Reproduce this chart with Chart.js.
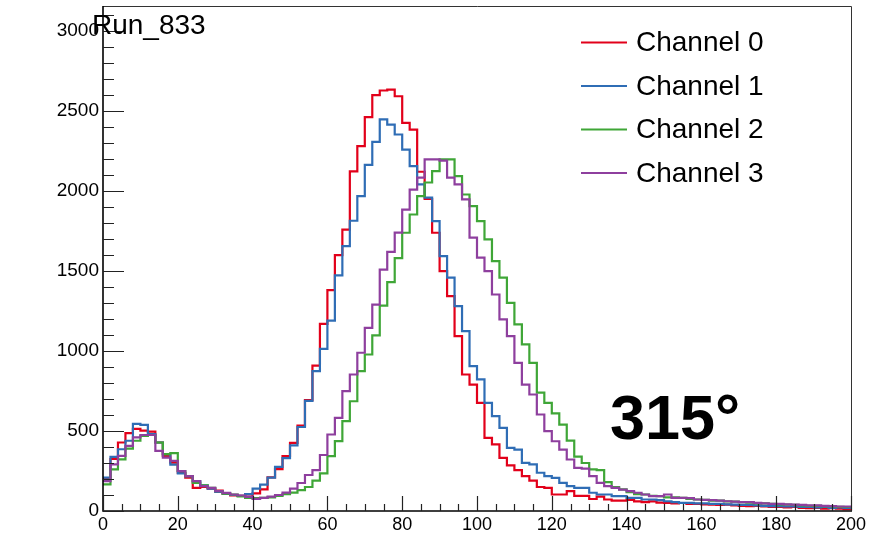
<!DOCTYPE html>
<html>
<head>
<meta charset="utf-8">
<script src="https://cdn.jsdelivr.net/npm/chart.js@4.4.0/dist/chart.umd.min.js"></script>
<style>
  html, body { margin: 0; padding: 0; background: #fff; }
  #wrap { width: 873px; height: 535px; }
</style>
</head>
<body>
<div id="wrap"><canvas id="histo" width="873" height="535"></canvas></div>
<script>
// histogram binning: 100 bins of width 2 from 0 to 200
const xMin = 0;
const binWidth = 2;

const labels = ["Channel 0", "Channel 1", "Channel 2", "Channel 3"];
const colors = ["#e2001a", "#2f6db5", "#3fa637", "#8e3f9e"];

const ch0 = [
  200, 325, 428, 487, 513, 502, 496, 428, 344, 302,
  239, 208, 145, 150, 140, 128, 107, 98, 95, 90,
  110, 135, 210, 262, 343, 426, 534, 693, 909, 1170,
  1380, 1599, 1759, 2122, 2280, 2461, 2599, 2628, 2634, 2592,
  2426, 2384, 2120, 1950, 1739, 1499, 1343, 1093, 853, 790,
  676, 457, 416, 332, 285, 255, 218, 190, 150, 145,
  103, 103, 124, 95, 95, 75, 90, 72, 65, 65,
  70, 60, 55, 60, 52, 50, 48, 50, 45, 45,
  42, 40, 38, 40, 35, 32, 30, 32, 28, 25,
  25, 22, 25, 20, 18, 20, 15, 18, 15, 12
];
const ch1 = [
  208, 338, 386, 439, 544, 538, 481, 428, 355, 290,
  235, 218, 185, 160, 140, 120, 108, 100, 95, 105,
  140, 165, 209, 276, 330, 410, 525, 688, 874, 1013,
  1190, 1472, 1655, 1814, 1968, 2163, 2307, 2447, 2415, 2353,
  2259, 2155, 2041, 1958, 1812, 1593, 1458, 1280, 1124, 905,
  822, 676, 593, 520, 395, 384, 301, 291, 239, 218,
  207, 176, 155, 145, 145, 114, 103, 103, 93, 93,
  82, 82, 72, 72, 68, 61, 55, 51, 51, 48,
  48, 45, 45, 42, 40, 38, 38, 35, 32, 30,
  30, 28, 28, 25, 25, 22, 25, 20, 22, 20
];
const ch2 = [
  166, 260, 323, 390, 439, 470, 475, 428, 355, 362,
  250, 218, 176, 160, 145, 124, 109, 103, 92, 82,
  80, 82, 85, 95, 105, 115, 130, 150, 190, 235,
  343, 437, 562, 686, 874, 978, 1097, 1284, 1430, 1580,
  1739, 1853, 1968, 2053, 2124, 2197, 2197, 2093, 1978, 1905,
  1812, 1697, 1561, 1458, 1301, 1166, 1041, 926, 740, 676,
  610, 540, 440, 340, 300, 260, 255, 180, 150, 135,
  118, 105, 103, 95, 93, 85, 85, 82, 75, 72,
  70, 65, 65, 60, 58, 55, 52, 48, 48, 45,
  42, 40, 38, 35, 32, 32, 30, 28, 26, 25
];
const ch3 = [
  187, 292, 344, 407, 460, 475, 475, 376, 334, 313,
  250, 218, 187, 155, 145, 124, 113, 103, 97, 88,
  76, 82, 90, 100, 115, 140, 175, 225, 255, 350,
  478, 582, 749, 853, 989, 1145, 1290, 1509, 1620, 1740,
  1884, 2009, 2084, 2197, 2197, 2190, 2084, 2041, 1947, 1709,
  1584, 1499, 1353, 1197, 1093, 926, 790, 728, 603, 499,
  436, 384, 322, 270, 265, 218, 176, 155, 145, 134,
  124, 114, 103, 93, 93, 103, 82, 82, 80, 72,
  70, 68, 65, 61, 58, 55, 55, 51, 48, 45,
  45, 42, 40, 38, 35, 35, 32, 30, 28, 28
];

const xTicks = [0, 20, 40, 60, 80, 100, 120, 140, 160, 180, 200];
const yTicks = [0, 500, 1000, 1500, 2000, 2500, 3000];
const yMax = 3156;

const runTitle = "Run_833";
const angleText = "315°";

const FONT = "'Liberation Sans', Arial, Helvetica, sans-serif";

// bin contents -> points at the low edge of each bin, plus closing edge
function histPoints(vals) {
  const pts = vals.map((v, i) => ({ x: xMin + i * binWidth, y: v }));
  pts.push({ x: xMin + vals.length * binWidth, y: vals[vals.length - 1] });
  return pts;
}

const series = [ch0, ch1, ch2, ch3];

// ROOT style frame, inward ticks, legend and labels
const rootStyle = {
  id: "rootStyle",
  afterDatasetsDraw(chart) {
    const { ctx, chartArea: a, scales } = chart;
    const x = scales.x, y = scales.y;
    ctx.save();

    // top / right frame
    ctx.strokeStyle = "#333";
    ctx.lineWidth = 1;
    ctx.beginPath();
    ctx.moveTo(a.left, a.top + 0.5);
    ctx.lineTo(a.right + 0.5, a.top + 0.5);
    ctx.lineTo(a.right + 0.5, a.bottom);
    ctx.stroke();

    // axes
    ctx.strokeStyle = "#000";
    ctx.lineWidth = 1.6;
    ctx.beginPath();
    ctx.moveTo(a.left, a.top);
    ctx.lineTo(a.left, a.bottom);
    ctx.lineTo(a.right + 1, a.bottom);
    ctx.stroke();

    // y ticks (inward)
    ctx.lineWidth = 1.2;
    ctx.strokeStyle = "#222";
    ctx.beginPath();
    for (let v = 0; v <= yMax; v += 100) {
      const py = Math.round(y.getPixelForValue(v)) + 0.5;
      const len = v % 500 === 0 ? 21 : 11;
      ctx.moveTo(a.left, py);
      ctx.lineTo(a.left + len, py);
    }
    // x ticks (inward)
    for (let v = 0; v <= 200; v += 5) {
      const px = Math.round(x.getPixelForValue(v)) + 0.5;
      const len = v % 20 === 0 ? 15 : 7;
      ctx.moveTo(px, a.bottom);
      ctx.lineTo(px, a.bottom - len);
    }
    ctx.stroke();

    // legend
    ctx.font = "28px " + FONT;
    ctx.textBaseline = "middle";
    ctx.textAlign = "left";
    labels.forEach((lab, i) => {
      const ly = a.top + 36.5 + i * 43.5;
      ctx.strokeStyle = colors[i];
      ctx.lineWidth = 2;
      ctx.beginPath();
      ctx.moveTo(a.left + 478, ly);
      ctx.lineTo(a.left + 524, ly);
      ctx.stroke();
      ctx.fillStyle = "#000";
      ctx.fillText(lab, a.left + 533, ly + 1);
    });

    // big angle label
    ctx.font = "bold 63px " + FONT;
    ctx.textBaseline = "alphabetic";
    ctx.fillText(angleText, a.left + 507, a.top + 433);

    // run title
    ctx.font = "28px " + FONT;
    ctx.fillText(runTitle, a.left - 11, a.top + 28);

    ctx.restore();
  }
};

new Chart(document.getElementById("histo"), {
  type: "line",
  data: {
    datasets: series.map((vals, i) => ({
      label: labels[i],
      data: histPoints(vals),
      borderColor: colors[i],
      backgroundColor: colors[i],
      borderWidth: 2.2,
      pointRadius: 0,
      fill: false,
      stepped: "before",
      order: series.length - i
    }))
  },
  options: {
    responsive: false,
    animation: false,
    layout: { padding: { top: 6, right: 22, left: 0, bottom: 0 } },
    plugins: {
      legend: { display: false },
      tooltip: { enabled: false }
    },
    scales: {
      x: {
        type: "linear",
        min: 0,
        max: 200,
        afterBuildTicks: (s) => { s.ticks = xTicks.map(v => ({ value: v })); },
        afterFit: (s) => { s.height = 24; s.paddingLeft = 0; s.paddingRight = 0; },
        grid: { display: false, drawTicks: false },
        border: { display: false },
        ticks: {
          color: "#000",
          padding: 3,
          maxRotation: 0,
          font: { family: FONT, size: 18 },
          callback: (v) => String(v)
        }
      },
      y: {
        type: "linear",
        min: 0,
        max: yMax,
        afterBuildTicks: (s) => { s.ticks = yTicks.map(v => ({ value: v })); },
        afterFit: (s) => { s.width = 103; s.paddingTop = 0; s.paddingBottom = 0; },
        grid: { display: false, drawTicks: false },
        border: { display: false },
        ticks: {
          color: "#000",
          padding: 4,
          font: { family: FONT, size: 19 },
          callback: (v) => String(v)
        }
      }
    }
  },
  plugins: [rootStyle]
});
</script>
</body>
</html>
